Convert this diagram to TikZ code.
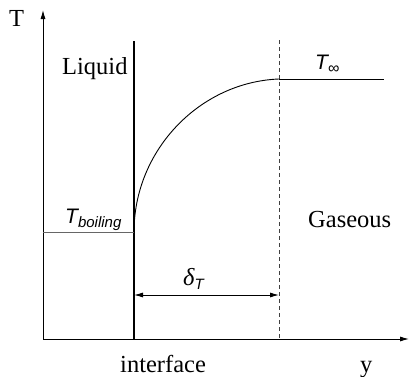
\documentclass[tikz,border=0pt]{standalone}
\usepackage{fontspec}
\setmainfont{Liberation Serif}
\newfontfamily\hsans{Liberation Sans}
\usetikzlibrary{arrows.meta}
\begin{document}
\begin{tikzpicture}[x=1pt,y=-1pt,
  lbl/.style={inner sep=0pt,anchor=base west,font=\fontsize{24.5}{28}\selectfont},
  axis/.style={line width=0.9pt,-{Latex[length=9pt,width=5pt]}},
  tip/.style={Latex[length=9pt,width=5pt]}]
\useasboundingbox (0,0) rectangle (409,376);
% coordinates
\coordinate (O) at (43,339);
\coordinate (Ttop) at (43,10);
\coordinate (Yend) at (409,339);
\coordinate (Itop) at (134,41);
\coordinate (Ibot) at (134,339);
\coordinate (Dtop) at (279,40);
\coordinate (Dbot) at (279,339);
\coordinate (B0) at (43,232);
\coordinate (B1) at (134,232);
\coordinate (Inf0) at (279,79);
\coordinate (Inf1) at (384,79);
\coordinate (A0) at (134,295);
\coordinate (A1) at (279,295);
% axes
\draw[axis] (O) -- (Ttop);
\draw[axis] (O) -- (Yend);
% interface
\draw[line width=1.8pt] (Itop) -- (Ibot);
% dashed
\draw[line width=0.8pt,gray!50!black,dash pattern=on 4pt off 3pt] (Dtop) -- (Dbot);
% boiling level
\draw[line width=0.9pt,gray!80!black] (B0) -- (B1);
% far field
\draw[line width=0.9pt] (Inf0) -- (Inf1);
% profile
\draw[line width=0.9pt] (B1) .. controls (134,150) and (200,82) .. (Inf0);
% delta arrow
\draw[line width=0.9pt,{Latex[length=9pt,width=5pt]}-{Latex[length=9pt,width=5pt]}] (A0) -- (A1);
% labels
\node[lbl] (lT) at (9,26) {T};
\node[lbl] (lLiq) at (62,74) {Liquid};
\node[lbl,font=\hsans\itshape\fontsize{21}{24}\selectfont] (lTb) at (65,223) {T\raisebox{-4pt}{\fontsize{15}{17}\selectfont boiling}};
\node[lbl,font=\hsans\itshape\fontsize{21}{24}\selectfont] (lTi) at (315,69) {T\raisebox{-4pt}{\hsans\upshape\fontsize{16}{17}\selectfont ∞}};
\node[lbl] (lGas) at (308,227) {Gaseous};
\node[lbl] (ldel) at (183,285) {\itshape δ\raisebox{-4pt}{\hsans\fontsize{15}{17}\selectfont T}};
\node[lbl] (lint) at (120,372) {interface};
\node[lbl] (ly) at (360,372) {y};
\end{tikzpicture}
\end{document}
